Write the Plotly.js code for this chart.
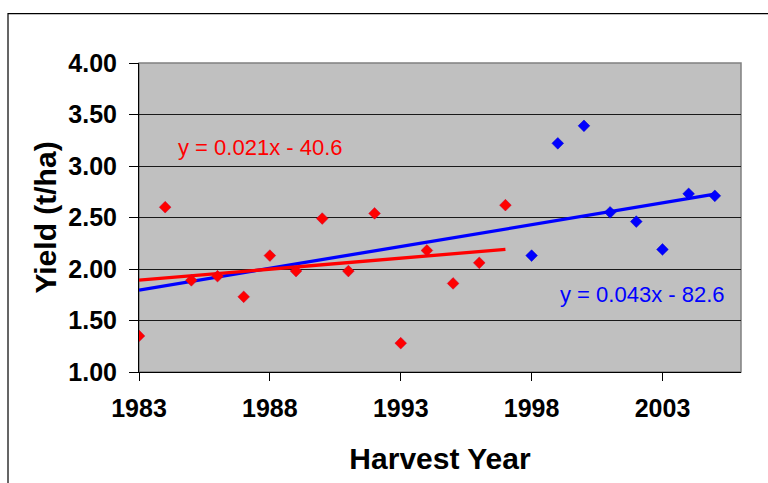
<!DOCTYPE html>
<html>
<head>
<meta charset="utf-8">
<script src="https://cdn.plot.ly/plotly-3.0.1.min.js"></script>
<style>html,body{margin:0;padding:0;background:#fff;}#chart{width:768px;height:483px;}</style>
</head>
<body>
<div id="chart"></div>
<script>
// Data
var redYears  = [1983,1984,1985,1986,1987,1988,1989,1990,1991,1992,1993,1994,1995,1996,1997];
var redYield  = [1.35,2.60,1.89,1.93,1.73,2.13,1.98,2.49,1.98,2.54,1.28,2.18,1.86,2.06,2.62];
var blueYears = [1998,1999,2000,2001,2002,2003,2004,2005];
var blueYield = [2.13,3.22,3.39,2.55,2.46,2.19,2.73,2.71];
var xTickVals = [1983,1988,1993,1998,2003];
var redEq  = "y = 0.021x - 40.6";
var blueEq = "y = 0.043x - 82.6";

function linfit(xs, ys){
  var n = xs.length, sx=0, sy=0, sxx=0, sxy=0;
  for (var i=0;i<n;i++){sx+=xs[i];sy+=ys[i];sxx+=xs[i]*xs[i];sxy+=xs[i]*ys[i];}
  var m = (n*sxy - sx*sy)/(n*sxx - sx*sx);
  var b = (sy - m*sx)/n;
  return function(x){return m*x+b;};
}
var allYears = redYears.concat(blueYears);
var allYield = redYield.concat(blueYield);
var fRed = linfit(redYears, redYield);
var fAll = linfit(allYears, allYield);
var redEnds = [redYears[0], redYears[redYears.length-1]];
var allEnds = [allYears[0], allYears[allYears.length-1]];

var traces = [
  {x: allEnds, y: allEnds.map(fAll), mode:'lines', line:{color:'#0000ff', width:3.3}, hoverinfo:'skip'},
  {x: redEnds, y: redEnds.map(fRed), mode:'lines', line:{color:'#ff0000', width:3.3}, hoverinfo:'skip'},
  {x: redYears, y: redYield, mode:'markers', marker:{symbol:'diamond', size:9, color:'#ff0000', line:{color:'#cc0033', width:0.5}}},
  {x: blueYears, y: blueYield, mode:'markers', marker:{symbol:'diamond', size:9, color:'#0000ff', line:{color:'#0000cc', width:0.5}}}
];

var layout = {
  width:768, height:483,
  margin:{l:139, r:27, t:63, b:111, pad:0},
  paper_bgcolor:'#ffffff', plot_bgcolor:'#c0c0c0',
  showlegend:false,
  font:{family:'Liberation Sans, Arial, sans-serif', color:'#000'},
  xaxis:{
    range:[1983,2006], tickvals:xTickVals, ticktext:xTickVals.map(String),
    showgrid:false, zeroline:false,
    showline:true, linecolor:'#000', linewidth:1,
    ticks:'outside', ticklen:8, tickcolor:'#000', tickwidth:1,
    ticklabelstandoff:6,
    tickfont:{size:25, family:'Liberation Sans, Arial, sans-serif', weight:'bold'},
    title:{text:'<b>Harvest Year</b>', font:{size:30}, standoff:26}
  },
  yaxis:{
    range:[1,4], dtick:0.5, tick0:1, tickformat:'.2f',
    showgrid:true, gridcolor:'#1a1a1a', gridwidth:1, zeroline:false,
    showline:true, linecolor:'#000', linewidth:1,
    ticks:'outside', ticklen:9, tickcolor:'#000', tickwidth:1,
    ticklabelstandoff:7,
    tickfont:{size:25, family:'Liberation Sans, Arial, sans-serif', weight:'bold'},
    title:{text:'<b>Yield (t/ha)</b>', font:{size:30}, standoff:2}
  },
  shapes:[
    {type:'rect', xref:'paper', yref:'paper', x0:0, x1:1, y0:0, y1:1, line:{color:'#808080', width:1.5}, layer:'below'},
    {type:'rect', xref:'paper', yref:'paper', x0:-0.2176, x1:1.2, y0:-0.6, y1:1.1595, line:{color:'#000', width:1.2}}
  ],
  annotations:[
    {x:1987.65, y:3.184, xref:'x', yref:'y', text:redEq, showarrow:false, xanchor:'center', yanchor:'middle', font:{size:22, color:'#ff0000'}},
    {x:2002.22, y:1.757, xref:'x', yref:'y', text:blueEq, showarrow:false, xanchor:'center', yanchor:'middle', font:{size:22, color:'#0000ff'}}
  ]
};

Plotly.newPlot('chart', traces, layout, {staticPlot:true, displayModeBar:false});
</script>
</body>
</html>
